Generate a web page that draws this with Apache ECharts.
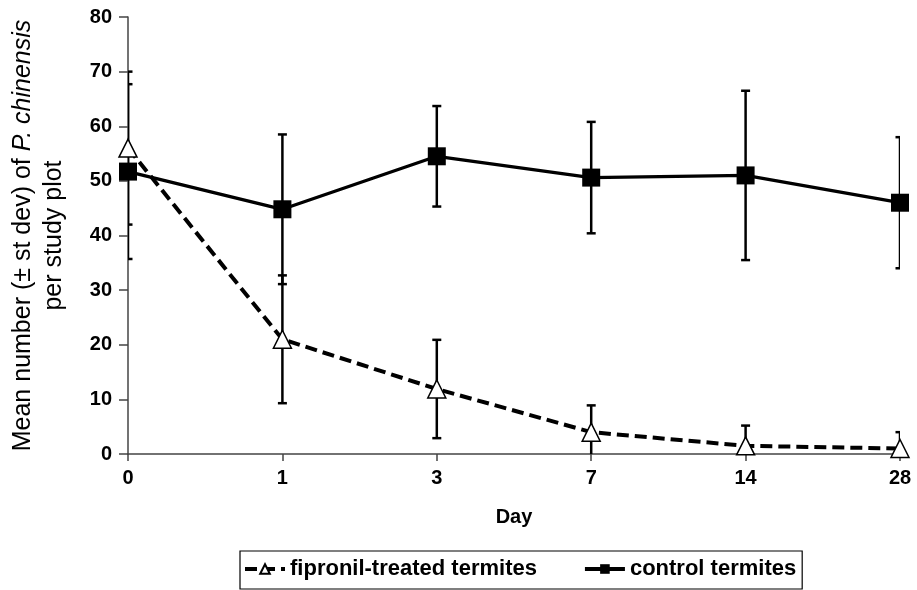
<!DOCTYPE html>
<html>
<head>
<meta charset="utf-8">
<script src="https://cdn.jsdelivr.net/npm/echarts@6/dist/echarts.min.js"></script>
<style>
  html, body { margin: 0; padding: 0; background: #fff; }
  #main { width: 917px; height: 590px; }
</style>
</head>
<body>
<div id="main"></div>
<script>
// data
var days = ['0', '1', '3', '7', '14', '28'];
var treatedMean = [56, 21, 11.9, 4, 1.5, 1];
var treatedSd = [14, 11.7, 9, 4.9, 3.7, 3];
var controlMean = [51.7, 44.8, 54.5, 50.6, 51, 46];
var controlSd = [16, 13.7, 9.2, 10.2, 15.5, 12];
var yTicks = [0, 10, 20, 30, 40, 50, 60, 70, 80];

var FONT = 'Liberation Sans, Arial, sans-serif';

function errData(means, sds) {
    return means.map(function (m, i) { return [i, m - sds[i], m + sds[i]]; });
}

function renderErr(params, api) {
    var x = api.value(0);
    var lo = api.coord([x, api.value(1)]);
    var hi = api.coord([x, api.value(2)]);
    var w = 4.5;
    var st = { stroke: '#000', lineWidth: 2.5 };
    return {
        type: 'group',
        children: [
            { type: 'line', shape: { x1: lo[0], y1: lo[1], x2: hi[0], y2: hi[1] }, style: st },
            { type: 'line', shape: { x1: hi[0] - w, y1: hi[1], x2: hi[0] + w, y2: hi[1] }, style: st },
            { type: 'line', shape: { x1: lo[0] - w, y1: lo[1], x2: lo[0] + w, y2: lo[1] }, style: st }
        ]
    };
}

var chartDom = document.getElementById('main');
var myChart = echarts.init(chartDom);
var option = {
    animation: false,
    textStyle: { fontFamily: FONT },
    grid: { left: 128, right: 17, top: 17, bottom: 136, outerBoundsMode: 'none' },
    legend: {
        data: ['fipronil-treated termites', 'control termites'],
        left: 240,
        top: 551,
        padding: [7, 6, 9, 3],
        itemGap: 46,
        itemWidth: 40,
        itemHeight: 12,
        borderColor: '#000',
        borderWidth: 1.2,
        borderRadius: 0,
        selectedMode: false,
        lineStyle: { width: 4 },
        textStyle: { fontFamily: FONT, fontSize: 22, fontWeight: 'bold', color: '#000' }
    },
    xAxis: {
        type: 'category',
        data: days,
        boundaryGap: false,
        name: 'Day',
        nameLocation: 'middle',
        nameGap: 53,
        nameTextStyle: { fontFamily: FONT, fontSize: 20, fontWeight: 'bold', color: '#000' },
        axisLine: { lineStyle: { color: '#444', width: 1.5 } },
        axisTick: { show: true, length: 7, alignWithLabel: true, lineStyle: { color: '#444', width: 1.5 } },
        axisLabel: { fontFamily: FONT, fontSize: 20, fontWeight: 'bold', color: '#000', margin: 14 },
        splitLine: { show: false }
    },
    yAxis: {
        type: 'value',
        min: yTicks[0],
        max: yTicks[yTicks.length - 1],
        interval: 10,
        name: '{n|Mean number (± st dev) of }{i|P. chinensis}\n{n|per study plot}',
        nameLocation: 'middle',
        nameGap: 58,
        nameTextStyle: {
            lineHeight: 31,
            rich: {
                n: { fontFamily: FONT, fontSize: 25, color: '#000', lineHeight: 31 },
                i: { fontFamily: FONT, fontSize: 25, fontStyle: 'italic', color: '#000', lineHeight: 31 }
            }
        },
        axisLine: { show: true, lineStyle: { color: '#444', width: 1.5 } },
        axisTick: { show: true, length: 9, lineStyle: { color: '#444', width: 1.5 } },
        axisLabel: { fontFamily: FONT, fontSize: 20, fontWeight: 'bold', color: '#000', margin: 16 },
        splitLine: { show: false }
    },
    series: [
        {
            name: 'treated-err',
            type: 'custom',
            renderItem: renderErr,
            data: errData(treatedMean, treatedSd),
            clip: true,
            z: 1,
            silent: true
        },
        {
            name: 'control-err',
            type: 'custom',
            renderItem: renderErr,
            data: errData(controlMean, controlSd),
            clip: true,
            z: 1,
            silent: true
        },
        {
            name: 'control termites',
            type: 'line',
            data: controlMean,
            symbol: 'rect',
            symbolSize: 18,
            itemStyle: { color: '#000' },
            lineStyle: { color: '#000', width: 3.3 },
            z: 3
        },
        {
            name: 'fipronil-treated termites',
            type: 'line',
            data: treatedMean,
            symbol: 'triangle',
            symbolSize: 18,
            itemStyle: { color: '#fff', borderColor: '#000', borderWidth: 1.5 },
            lineStyle: { color: '#000', width: 4, type: [12, 6] },
            z: 4
        }
    ]
};

option && myChart.setOption(option);
</script>
</body>
</html>
